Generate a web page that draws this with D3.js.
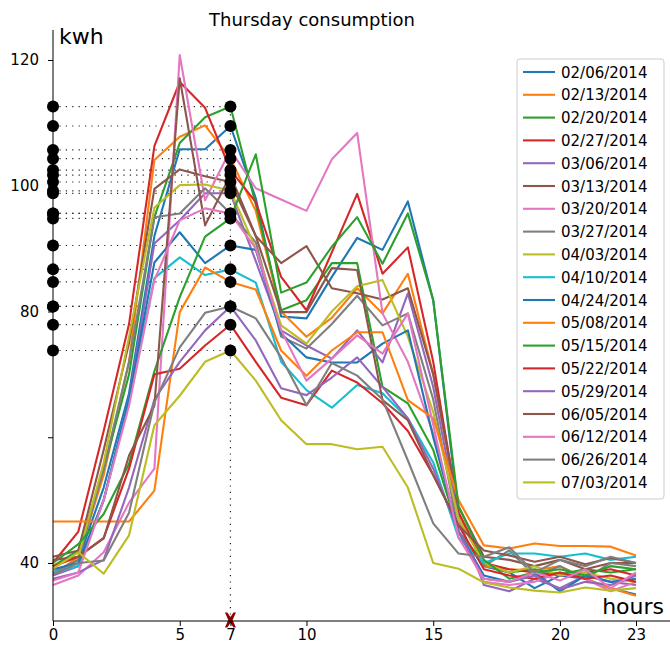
<!DOCTYPE html>
<html>
<head>
<meta charset="utf-8">
<script src="https://cdn.jsdelivr.net/npm/d3@7"></script>
<style>
body { margin: 0; background: white; }
text { font-family: "DejaVu Sans", sans-serif; }
</style>
</head>
<body>
<svg id="chart" width="670" height="646"></svg>
<script>
var hours = d3.range(24)
var dates = ["02/06/2014", "02/13/2014", "02/20/2014", "02/27/2014", "03/06/2014", "03/13/2014",
	     "03/20/2014", "03/27/2014", "04/03/2014", "04/10/2014", "04/24/2014", "05/08/2014",
	     "05/15/2014", "05/22/2014", "05/29/2014", "06/05/2014", "06/12/2014", "06/26/2014", "07/03/2014"]
var colors = ["#1f77b4", "#ff7f0e", "#2ca02c", "#d62728", "#9467bd", "#8c564b", "#e377c2", "#7f7f7f", "#bcbd22", "#17becf"]

var d0206 = [38.5, 40.5, 52, 67, 92, 105.8, 105.8, 109.5, 98, 79.2, 78.9, 85.5, 91.7, 89.8, 97.5, 81.8, 48, 39.5, 38.5, 36, 38, 37.5, 36, 35]
var d0213 = [38, 41, 54, 72, 104.1, 107.8, 109.6, 104.3, 96, 80, 76, 79, 83.7, 79.7, 86, 70, 48, 39.5, 39, 38.8, 39.5, 37.5, 36, 34.8]
var d0220 = [39.5, 42, 55, 70, 95, 106.8, 110.9, 112.6, 97, 80.2, 81.8, 87.7, 87.7, 68, 65.4, 58, 45, 40, 38.5, 39, 38.2, 39, 38.5, 39]
var d0227 = [40, 45, 61, 78, 106.3, 116.5, 112.4, 102.5, 97.4, 85.5, 80.2, 89.4, 98.7, 86, 90.2, 72, 48, 40, 39, 38.5, 38, 38.5, 39, 38]
var d0306 = [38, 39.5, 50, 66, 90.8, 94.5, 98.8, 98.8, 88, 77, 74.6, 72.5, 77, 71.9, 82.9, 68, 47, 36.5, 35.5, 37.5, 36, 38, 37, 36.5]
var d0313 = [41, 42, 58, 75, 99.5, 102.6, 101.5, 100.6, 92, 87.7, 90.4, 83.7, 82.9, 81.9, 83.7, 70, 49, 41, 40.5, 39.5, 40.5, 39, 40, 40]
var d0320 = [36.5, 38, 41.7, 49.6, 55, 120.8, 97.7, 105.7, 99.6, 97.8, 96, 104.2, 108.4, 79.7, 72, 60.6, 45, 37, 36.5, 37, 38.5, 37.5, 35.5, 37]
var d0327 = [38.5, 40.5, 55, 72, 95, 95.6, 99.6, 95.6, 91, 76, 74.1, 78, 82.5, 77.8, 79.7, 66, 45, 39.5, 42, 38, 39.5, 37.5, 40, 39.5]
var d0403 = [39.5, 41, 56, 76, 96.5, 100.1, 100.2, 99.2, 90, 77.8, 74.9, 80, 84, 85, 76, 64, 47, 40, 38.5, 39.5, 38, 38.5, 37.5, 37]
var d0410 = [38.5, 39.5, 50, 66, 85.3, 88.6, 85.8, 86.7, 84.6, 72, 67.5, 64.7, 68.3, 67, 63, 56, 44, 40, 41.5, 41.5, 41, 41.5, 40.5, 41]
var d0424 = [39, 40, 50, 66, 87.8, 92.6, 87.7, 90.5, 89.8, 76.5, 72.7, 71.9, 71.9, 74.9, 77, 60, 45, 38, 37, 38.5, 35.5, 38, 37, 37.5]
var d0508 = [46.6, 46.6, 46.6, 46.6, 51.5, 79.9, 87, 84.7, 83.5, 73.8, 69.8, 73.8, 76.7, 76.7, 65.9, 63, 50, 42.8, 42.3, 43.1, 42.7, 42.7, 42.6, 41.2]
var d0515 = [40, 43, 47.8, 55.8, 70.5, 82.3, 91.9, 94.8, 105, 83, 84.6, 90.3, 95, 87.6, 95.6, 81.8, 49, 40.5, 37.5, 38.5, 39, 38, 39.5, 39]
var d0522 = [39.5, 41, 44, 55, 70, 70.9, 74.6, 77.9, 72, 66.3, 65.1, 70.6, 68.7, 65.4, 61, 54, 46, 39, 38, 37.5, 38.5, 37.5, 38, 37]
var d0529 = [37.5, 38.5, 40.5, 52, 66, 72, 77, 80.8, 75.4, 67.8, 66.7, 69.5, 72.7, 68, 63, 55, 45, 37.5, 37, 38, 35.8, 37, 36.5, 38]
var d0605 = [40.5, 41, 43.9, 57.1, 65, 117.1, 93.7, 101.7, 92, 79.9, 79.9, 86.9, 86.6, 65.9, 62.7, 54, 46, 42, 41.2, 40.2, 41, 39.8, 40.8, 40]
var d0612 = [37.2, 38.5, 50, 65, 85, 94.5, 96.4, 95.6, 90, 77, 69, 72.5, 76.2, 73.3, 79.7, 62, 44, 37.5, 37, 38.5, 37.2, 39, 36, 38.5]
var d0626 = [38.2, 40, 40.4, 48, 65.5, 74.3, 79.8, 80.8, 78.9, 72.7, 65.1, 71.8, 69.8, 66, 56.3, 46.3, 41.5, 41, 42.5, 38.5, 40.5, 39.5, 41, 40]
var d0703 = [39.1, 41.7, 38.3, 44.4, 61.9, 66.6, 72, 73.8, 69, 62.7, 58.9, 58.9, 58.1, 58.5, 52, 40, 39.1, 36.9, 36.1, 35.6, 35.3, 36.1, 35.6, 36]

var series = [d0206, d0213, d0220, d0227, d0306, d0313, d0320, d0327, d0403, d0410,
	      d0424, d0508, d0515, d0522, d0529, d0605, d0612, d0626, d0703]

var xTicks = [0, 5, 7, 10, 15, 20, 23]
var yTicks = [40, 60, 80, 100, 120]
var yTickLabels = ["40", "", "80", "100", "120"]
var markHour = 7

var svg = d3.select("#chart")

var x = d3.scaleLinear().domain([0, 23]).range([53, 636])
var y = d3.scaleLinear().domain([40, 120]).range([563, 60])
var yBottom = 621
var yTop = 30
var xRight = 670

function drawTitle() {
    svg.append("text")
	.attr("x", 312)
	.attr("y", 26)
	.attr("text-anchor", "middle")
	.attr("font-size", "18px")
	.text("Thursday consumption")

    svg.append("text")
	.attr("x", 59)
	.attr("y", 44)
	.attr("font-size", "22px")
	.text("kwh")

    svg.append("text")
	.attr("x", 664)
	.attr("y", 614)
	.attr("text-anchor", "end")
	.attr("font-size", "22px")
	.text("hours")
}

function drawAxes() {
    var xAxis = d3.axisBottom(x)
	.tickValues(xTicks)
	.tickSize(5)
	.tickPadding(3)
    var gx = svg.append("g")
	.attr("transform", "translate(0," + yBottom + ")")
	.call(xAxis)
    gx.attr("font-size", 15).attr("font-family", "DejaVu Sans")
    gx.select(".domain").remove()
    gx.selectAll("text").attr("fill", "black")
    gx.append("line")
	.attr("x1", x(0))
	.attr("x2", xRight)
	.attr("stroke", "black")
	.attr("stroke-width", 1)

    var yAxis = d3.axisLeft(y)
	.tickValues(yTicks)
	.tickFormat(function(d, i) { return yTickLabels[i] })
	.tickSize(5)
	.tickPadding(9)
    var gy = svg.append("g")
	.attr("transform", "translate(" + x(0) + ",0)")
	.call(yAxis)
    gy.attr("font-size", 15).attr("font-family", "DejaVu Sans")
    gy.select(".domain").remove()
    gy.selectAll("text").attr("fill", "black")
    gy.append("line")
	.attr("y1", yTop)
	.attr("y2", yBottom)
	.attr("stroke", "black")
	.attr("stroke-width", 1)
}

function drawGuides() {
    var vals = series.map(function(s) { return s[markHour] })
    svg.append("g")
	.selectAll("line")
	.data(vals)
	.enter()
	.append("line")
	.attr("x1", x(0))
	.attr("x2", x(markHour))
	.attr("y1", function(d) { return y(d) })
	.attr("y2", function(d) { return y(d) })
	.attr("stroke", "#222")
	.attr("stroke-width", 1.2)
	.attr("stroke-dasharray", "1.2,5.2")

    svg.append("line")
	.attr("x1", x(markHour))
	.attr("x2", x(markHour))
	.attr("y1", yBottom)
	.attr("y2", y(d3.max(vals)))
	.attr("stroke", "#222")
	.attr("stroke-width", 1.2)
	.attr("stroke-dasharray", "1.2,5.2")
}

function drawLines() {
    var line = d3.line()
	.x(function(d, i) { return x(hours[i]) })
	.y(function(d) { return y(d) })
    svg.append("g")
	.selectAll("path")
	.data(series)
	.enter()
	.append("path")
	.attr("d", line)
	.attr("fill", "none")
	.attr("stroke", function(d, i) { return colors[i % 10] })
	.attr("stroke-width", 2.1)
	.attr("stroke-linejoin", "round")
}

function drawDots() {
    var vals = series.map(function(s) { return s[markHour] })
    var g = svg.append("g")
    g.selectAll("circle.l")
	.data(vals)
	.enter()
	.append("circle")
	.attr("cx", x(0))
	.attr("cy", function(d) { return y(d) })
	.attr("r", 6)
	.attr("fill", "black")
    g.selectAll("circle.r")
	.data(vals)
	.enter()
	.append("circle")
	.attr("cx", x(markHour))
	.attr("cy", function(d) { return y(d) })
	.attr("r", 6)
	.attr("fill", "black")

    var cx = x(markHour), cy = yBottom - 1
    var w = 5.5, h = 7.5, t = 2.4
    var pts = [[-w, -h], [-w + t, -h], [0, -t * 1.3], [w - t, -h], [w, -h], [t * 0.9, 0],
	       [w, h], [w - t, h], [0, t * 1.3], [-w + t, h], [-w, h], [-t * 0.9, 0]]
    svg.append("path")
	.attr("d", "M" + pts.map(function(p) { return (cx + p[0]) + "," + (cy + p[1]) }).join("L") + "Z")
	.attr("fill", "#8b0000")
}

function drawLegend() {
    var lx = 517, ly = 59, rowH = 22.8
    var g = svg.append("g")
    g.append("rect")
	.attr("x", lx)
	.attr("y", ly)
	.attr("width", 147)
	.attr("height", 440)
	.attr("rx", 3)
	.attr("fill", "white")
	.attr("fill-opacity", 0.8)
	.attr("stroke", "#cccccc")
	.attr("stroke-width", 1)

    var rows = g.selectAll("g.row")
	.data(dates)
	.enter()
	.append("g")
	.attr("transform", function(d, i) { return "translate(0," + (ly + 13 + i * rowH) + ")" })
    rows.append("line")
	.attr("x1", lx + 6)
	.attr("x2", lx + 38)
	.attr("stroke", function(d, i) { return colors[i % 10] })
	.attr("stroke-width", 2.1)
    rows.append("text")
	.attr("x", lx + 44)
	.attr("y", 5.5)
	.attr("font-size", "15px")
	.text(function(d) { return d })
}

drawGuides()
drawLines()
drawDots()
drawAxes()
drawTitle()
drawLegend()
</script>
</body>
</html>
